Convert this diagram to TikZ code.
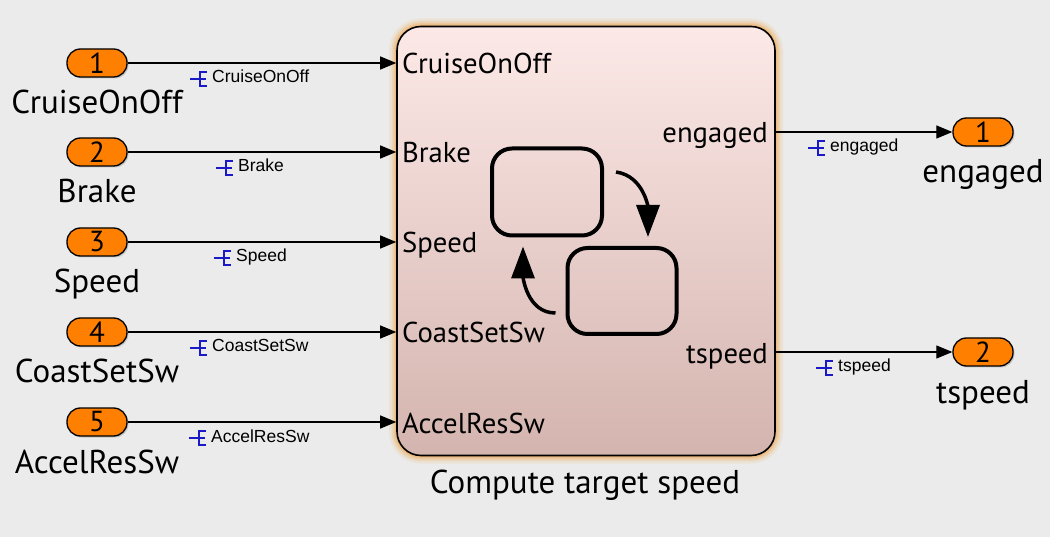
\documentclass[tikz,border=0pt]{standalone}
\usepackage{fontspec}
\setmainfont{PT Sans}
\newfontfamily\labelfont{Liberation Sans}
\usetikzlibrary{arrows.meta}
\usetikzlibrary{calc}
\usetikzlibrary{shadows}

\definecolor{portorange}{RGB}{255,128,0}
\definecolor{canvasgray}{RGB}{235,235,235}
\definecolor{charttop}{RGB}{252,233,231}
\definecolor{chartbottom}{RGB}{212,180,174}
\definecolor{chartglow}{RGB}{236,175,100}
\definecolor{markblue}{RGB}{25,25,200}

\tikzset{
	port/.style={shape=rectangle,draw,line width=1.3pt,fill=portorange,rounded corners=13.5pt,
		minimum width=60pt,minimum height=28pt,inner sep=0pt,font=\fontsize{29}{29}\selectfont,
		drop shadow={shadow xshift=1.5pt,shadow yshift=-1.5pt,opacity=0.35}},
	bigtext/.style={inner sep=0pt,font=\fontsize{33}{33}\selectfont},
	porttext/.style={inner sep=0pt,font=\fontsize{28.7}{28.7}\selectfont},
	sigtext/.style={inner sep=0pt,font=\labelfont\fontsize{17.5}{17.5}\selectfont},
	sigline/.style={line width=1.2pt,-{Triangle[length=16pt,width=13pt]}},
	chartbox/.style={shape=rectangle,draw,line width=1.6pt,rounded corners=24pt,
		minimum width=378pt,minimum height=429pt,top color=charttop,bottom color=chartbottom},
	chartedge/.style={shape=rectangle,draw=chartglow,rounded corners=24pt,
		minimum width=378pt,minimum height=429pt},
	stateicon/.style={shape=rectangle,draw,line width=4pt,rounded corners=20pt},
	transition/.style={line width=3.5pt,-{Triangle[length=32pt,width=23pt]}},
	pics/sigmark/.style={code={
		\draw [markblue,line width=1.8pt] (-10,0) -- (6,0) (7,-7) -- (0,-7) -- (0,7) -- (7,7);
	}}
}

\begin{document}
\begin{tikzpicture}[x=1pt,y=-1pt]
	\fill [canvasgray] (0,0) rectangle (1050,537);
	\useasboundingbox (0,0) rectangle (1050,537);
	% chart block with its glow
	\foreach \w/\o in {16/0.15,11/0.25,7/0.35,4/0.5} {
		\draw (586,241) node [chartedge,line width=\w pt,draw opacity=\o] {};
	}
	\draw (586,241) node (chart) [chartbox] {};
	\draw (585,493) node (title) [bigtext,anchor=base] {Compute target speed};
	% inports
	\foreach \n/\name/\y/\lx in {1/CruiseOnOff/63/212,2/Brake/152/238,3/Speed/242/236,4/CoastSetSw/332/212,5/AccelResSw/422/211} {
		\draw (97,\y) node (in\n) [port] {\n};
		\draw (97,\y+51) node (inname\n) [bigtext,anchor=base] {\name};
		\draw (402,\y+11) node (cin\n) [porttext,anchor=base west] {\name};
		\coordinate (pin\n) at (chart.west |- in\n);
		\draw [sigline] (in\n) -- (pin\n);
		\draw (\lx,\y+20) node (sig\n) [sigtext,anchor=base west] {\name};
		\path (sig\n.base west) ++(-12,-4) pic {sigmark};
	}
	% outports
	\foreach \n/\name/\y/\lx in {1/engaged/132/830,2/tspeed/352/838} {
		\draw (983,\y) node (out\n) [port] {\n};
		\draw (983,\y+51) node (outname\n) [bigtext,anchor=base] {\name};
		\draw (768,\y+11) node (cout\n) [porttext,anchor=base east] {\name};
		\coordinate (pout\n) at (chart.east |- out\n);
		\draw [sigline] (pout\n) -- (out\n);
		\draw (\lx,\y+20) node (osig\n) [sigtext,anchor=base west] {\name};
		\path (osig\n.base west) ++(-12,-4) pic {sigmark};
	}
	% stateflow icon
	\draw (547,192) node (stA) [stateicon,minimum width=110pt,minimum height=87pt] {};
	\draw (622,291) node (stB) [stateicon,minimum width=109pt,minimum height=86pt] {};
	\coordinate (tAfrom) at ($(stA.east)+(12,-20)$);
	\coordinate (tAto) at ($(stB.north)+(26,-9)$);
	\coordinate (tBfrom) at ($(stB.west)+(-10,22)$);
	\coordinate (tBto) at ($(stA.south)+(-24,9)$);
	\draw [transition] (tAfrom) to [out=-8,in=90] (tAto);
	\draw [transition] (tBfrom) to [out=180,in=270] (tBto);
\end{tikzpicture}
\end{document}
